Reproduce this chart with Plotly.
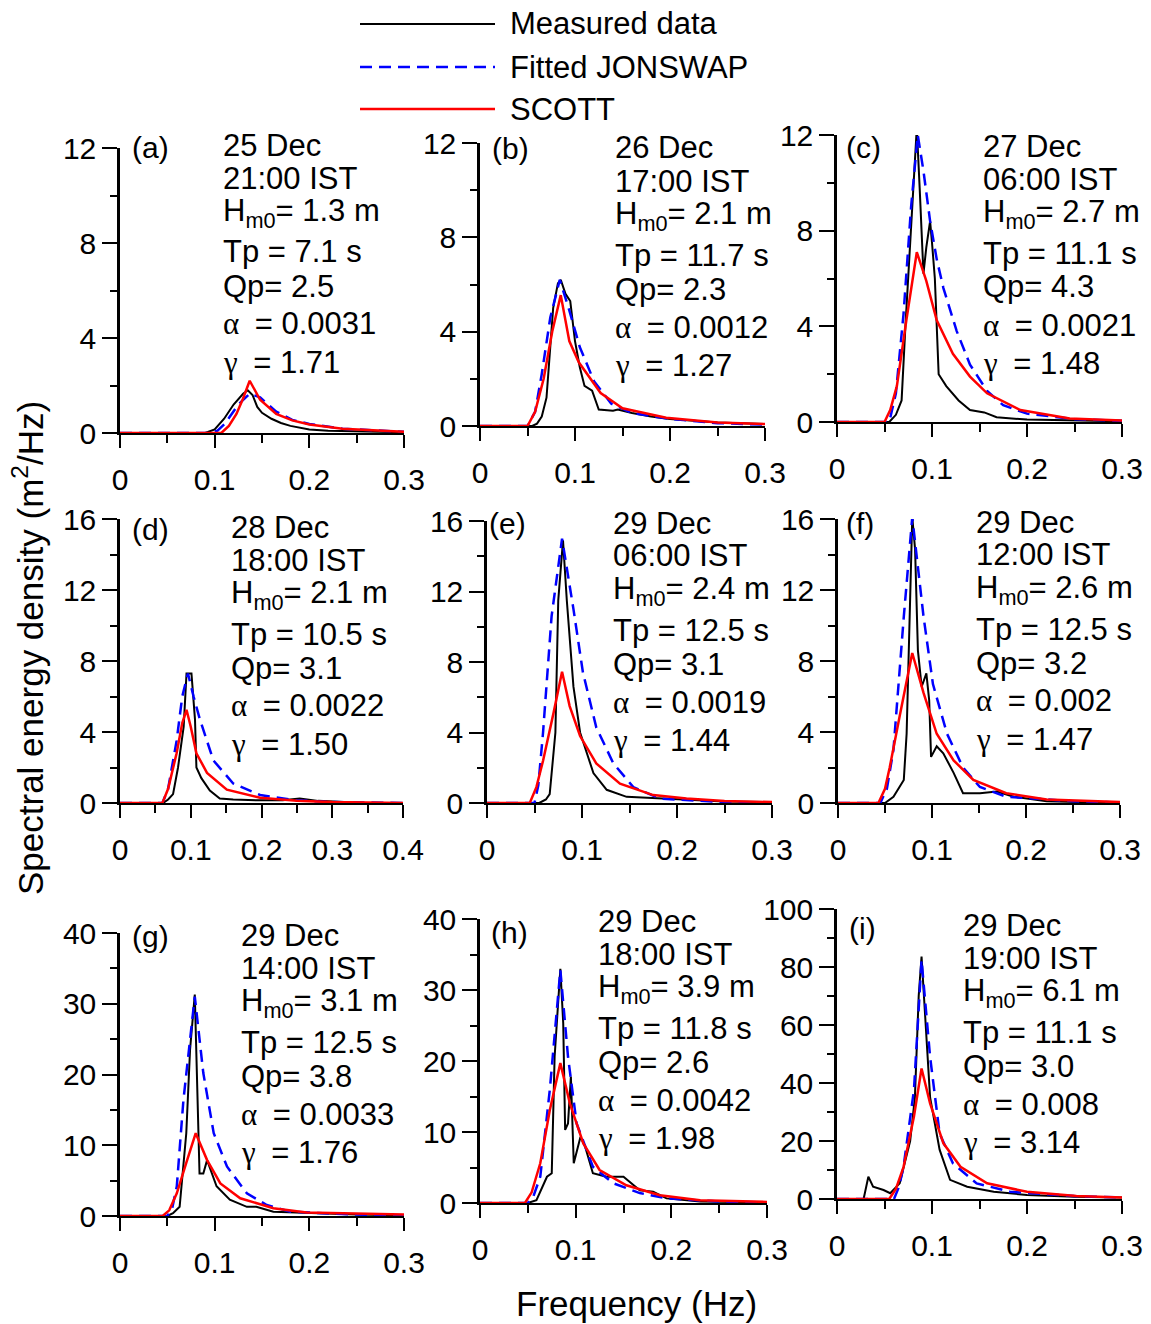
import plotly.graph_objects as go

# ---------------- data ----------------
a_meas_f = [0, 0.09, 0.1, 0.11, 0.12, 0.13, 0.135, 0.14, 0.145, 0.15, 0.16, 0.17, 0.18, 0.2, 0.22, 0.25, 0.28, 0.3]
a_meas_s = [0, 0, 0.15, 0.6, 1.2, 1.65, 1.8, 1.6, 1.1, 0.85, 0.6, 0.42, 0.3, 0.15, 0.1, 0.07, 0.05, 0.03]
a_jons_f = [0, 0.095, 0.103, 0.111, 0.125, 0.137, 0.148, 0.165, 0.182, 0.2, 0.235, 0.27, 0.3]
a_jons_s = [0, 0, 0.1, 0.4, 1.2, 1.65, 1.5, 0.9, 0.55, 0.38, 0.18, 0.1, 0.05]
a_scott_f = [0, 0.107, 0.115, 0.123, 0.13, 0.137, 0.148, 0.165, 0.182, 0.2, 0.235, 0.27, 0.3]
a_scott_s = [0, 0, 0.3, 0.8, 1.45, 2.2, 1.4, 0.8, 0.53, 0.36, 0.18, 0.1, 0.05]

b_meas_f = [0, 0.055, 0.06, 0.065, 0.07, 0.077, 0.082, 0.085, 0.09, 0.095, 0.1, 0.105, 0.11, 0.118, 0.125, 0.14, 0.145, 0.16, 0.18, 0.2, 0.25, 0.3]
b_meas_s = [0, 0, 0.1, 0.4, 1.2, 5.0, 6.05, 6.2, 5.6, 5.3, 3.6, 2.5, 1.7, 1.5, 0.7, 0.65, 0.7, 0.55, 0.4, 0.3, 0.15, 0.08]
b_jons_f = [0, 0.05, 0.058, 0.065, 0.074, 0.084, 0.094, 0.105, 0.12, 0.138, 0.16, 0.2, 0.25, 0.3]
b_jons_s = [0, 0, 0.6, 2.2, 4.6, 6.2, 4.9, 3.35, 1.9, 0.95, 0.55, 0.3, 0.12, 0.06]
b_scott_f = [0, 0.05, 0.058, 0.067, 0.076, 0.085, 0.094, 0.104, 0.127, 0.15, 0.196, 0.25, 0.3]
b_scott_s = [0, 0, 0.6, 2.0, 4.0, 5.55, 3.6, 2.7, 1.4, 0.75, 0.35, 0.15, 0.08]

c_meas_f = [0, 0.055, 0.062, 0.068, 0.072, 0.077, 0.08, 0.084, 0.087, 0.091, 0.094, 0.098, 0.1, 0.103, 0.107, 0.115, 0.128, 0.14, 0.155, 0.168, 0.2, 0.25, 0.3]
c_meas_s = [0, 0, 0.3, 0.9, 4.0, 7.7, 9.8, 12.3, 9.8, 6.2, 7.3, 8.4, 7.5, 6.0, 2.0, 1.5, 0.9, 0.5, 0.4, 0.2, 0.1, 0.05, 0.03]
c_jons_f = [0, 0.055, 0.062, 0.07, 0.078, 0.085, 0.091, 0.098, 0.105, 0.112, 0.126, 0.14, 0.158, 0.175, 0.2, 0.25, 0.3]
c_jons_s = [0, 0, 1.2, 4.5, 9.0, 12.0, 10.5, 8.4, 6.8, 5.6, 3.8, 2.4, 1.3, 0.7, 0.35, 0.12, 0.05]
c_scott_f = [0, 0.05, 0.056, 0.063, 0.073, 0.084, 0.094, 0.105, 0.122, 0.14, 0.158, 0.193, 0.245, 0.3]
c_scott_s = [0, 0, 0.5, 1.5, 4.25, 7.1, 5.9, 4.25, 2.85, 1.9, 1.2, 0.5, 0.15, 0.06]

d_meas_f = [0, 0.061, 0.068, 0.075, 0.082, 0.09, 0.094, 0.101, 0.106, 0.108, 0.115, 0.127, 0.141, 0.16, 0.198, 0.23, 0.254, 0.28, 0.316, 0.33]
d_meas_s = [0, 0, 0.2, 0.5, 2.0, 4.3, 7.3, 7.3, 4.7, 2.0, 1.4, 0.7, 0.25, 0.2, 0.15, 0.15, 0.25, 0.12, 0.05, 0.0]
d_jons_f = [0, 0.06, 0.068, 0.08, 0.088, 0.096, 0.104, 0.113, 0.132, 0.16, 0.198, 0.25, 0.3, 0.4]
d_jons_s = [0, 0, 0.8, 3.5, 6.0, 7.3, 6.0, 4.7, 2.4, 1.1, 0.45, 0.15, 0.05, 0.0]
d_scott_f = [0, 0.06, 0.068, 0.08, 0.088, 0.094, 0.1, 0.108, 0.123, 0.151, 0.198, 0.25, 0.3, 0.4]
d_scott_s = [0, 0, 0.8, 2.8, 4.5, 5.25, 4.3, 2.8, 1.7, 0.75, 0.3, 0.12, 0.05, 0.0]

e_meas_f = [0, 0.055, 0.062, 0.066, 0.072, 0.075, 0.08, 0.084, 0.091, 0.098, 0.112, 0.126, 0.147, 0.2, 0.25, 0.3]
e_meas_s = [0, 0, 0.2, 0.5, 4.0, 11.5, 14.9, 11.5, 6.6, 4.0, 1.7, 0.75, 0.35, 0.2, 0.08, 0.05]
e_jons_f = [0, 0.05, 0.054, 0.059, 0.068, 0.079, 0.091, 0.101, 0.115, 0.133, 0.154, 0.182, 0.25, 0.3]
e_jons_s = [0, 0, 1.0, 4.0, 10.6, 15.0, 11.0, 7.4, 4.3, 2.25, 0.9, 0.25, 0.05, 0.02]
e_scott_f = [0, 0.045, 0.052, 0.059, 0.07, 0.079, 0.087, 0.098, 0.115, 0.14, 0.175, 0.21, 0.25, 0.3]
e_scott_s = [0, 0, 0.9, 2.4, 5.1, 7.45, 5.5, 3.8, 2.25, 1.1, 0.45, 0.25, 0.12, 0.05]

f_meas_f = [0, 0.05, 0.059, 0.07, 0.073, 0.077, 0.079, 0.082, 0.085, 0.089, 0.094, 0.097, 0.099, 0.105, 0.112, 0.123, 0.133, 0.151, 0.169, 0.187, 0.222, 0.26, 0.3]
f_meas_s = [0, 0, 0.35, 1.3, 3.9, 12.4, 16.1, 14.3, 8.6, 6.55, 7.3, 5.8, 2.6, 3.2, 2.8, 1.7, 0.55, 0.55, 0.65, 0.35, 0.1, 0.05, 0.03]
f_jons_f = [0, 0.045, 0.052, 0.059, 0.07, 0.079, 0.091, 0.101, 0.116, 0.133, 0.151, 0.179, 0.25, 0.3]
f_jons_s = [0, 0, 0.8, 3.0, 10.5, 16.1, 10.5, 6.7, 3.9, 2.0, 0.9, 0.35, 0.1, 0.03]
f_scott_f = [0, 0.043, 0.05, 0.055, 0.066, 0.079, 0.091, 0.105, 0.123, 0.144, 0.179, 0.222, 0.3]
f_scott_s = [0, 0, 0.8, 2.0, 5.0, 8.45, 6.2, 3.9, 2.4, 1.3, 0.55, 0.2, 0.05]

g_meas_f = [0, 0.05, 0.056, 0.063, 0.07, 0.074, 0.079, 0.082, 0.084, 0.088, 0.092, 0.102, 0.116, 0.134, 0.144, 0.162, 0.197, 0.25, 0.3]
g_meas_s = [0, 0, 0.4, 1.3, 11.7, 23.5, 31.3, 16.4, 6.0, 6.0, 7.9, 4.2, 2.3, 1.3, 1.3, 0.6, 0.4, 0.2, 0.1]
g_jons_f = [0, 0.05, 0.055, 0.06, 0.067, 0.079, 0.088, 0.099, 0.113, 0.134, 0.155, 0.18, 0.25, 0.3]
g_jons_s = [0, 0, 1.0, 4.2, 16.4, 31.0, 20.2, 11.7, 7.0, 3.2, 1.55, 0.6, 0.2, 0.1]
g_scott_f = [0, 0.045, 0.052, 0.06, 0.07, 0.08, 0.092, 0.106, 0.127, 0.162, 0.197, 0.25, 0.3]
g_scott_s = [0, 0, 0.8, 3.2, 7.5, 11.7, 7.9, 4.6, 2.5, 1.1, 0.5, 0.3, 0.2]

h_meas_f = [0, 0.05, 0.059, 0.07, 0.075, 0.078, 0.084, 0.087, 0.089, 0.092, 0.095, 0.098, 0.105, 0.11, 0.118, 0.132, 0.15, 0.167, 0.181, 0.195, 0.23, 0.3]
h_meas_s = [0, 0, 0.4, 3.7, 4.2, 20.6, 33.0, 25.3, 10.3, 11.2, 17.8, 5.6, 9.3, 7.9, 4.2, 3.7, 3.7, 1.8, 1.6, 0.65, 0.2, 0.1]
h_jons_f = [0, 0.05, 0.056, 0.063, 0.073, 0.084, 0.092, 0.101, 0.118, 0.139, 0.167, 0.195, 0.25, 0.3]
h_jons_s = [0, 0, 1.0, 3.7, 16.0, 32.8, 20.6, 11.2, 5.1, 2.8, 1.4, 0.65, 0.2, 0.1]
h_scott_f = [0, 0.047, 0.054, 0.063, 0.073, 0.084, 0.094, 0.108, 0.125, 0.153, 0.188, 0.23, 0.3]
h_scott_s = [0, 0, 1.5, 5.6, 13.1, 19.7, 14.0, 8.4, 4.65, 2.5, 1.1, 0.4, 0.15]

i_meas_f = [0, 0.028, 0.033, 0.038, 0.049, 0.056, 0.066, 0.077, 0.082, 0.086, 0.089, 0.093, 0.098, 0.108, 0.119, 0.137, 0.165, 0.2, 0.25, 0.3]
i_meas_s = [0, 0, 7.7, 4.25, 3.1, 2.0, 5.4, 20, 35, 70, 83.6, 60.6, 35, 17, 6.6, 4.25, 2.5, 1.4, 0.8, 0.5]
i_jons_f = [0, 0.06, 0.065, 0.07, 0.081, 0.089, 0.098, 0.108, 0.122, 0.147, 0.182, 0.25, 0.3]
i_jons_s = [0, 0, 4, 11, 37.6, 82.4, 49, 22.6, 12.3, 5.4, 2.5, 1.0, 0.5]
i_scott_f = [0, 0.055, 0.062, 0.07, 0.081, 0.089, 0.098, 0.112, 0.13, 0.158, 0.2, 0.252, 0.3]
i_scott_s = [0, 0, 3.5, 11, 28.4, 45, 33, 19.2, 11.1, 5.4, 2.5, 1.0, 0.5]

panel_labels = ["(a)", "(b)", "(c)", "(d)", "(e)", "(f)", "(g)", "(h)", "(i)"]
dates = ["25 Dec", "26 Dec", "27 Dec", "28 Dec", "29 Dec", "29 Dec", "29 Dec", "29 Dec", "29 Dec"]
times = ["21:00 IST", "17:00 IST", "06:00 IST", "18:00 IST", "06:00 IST", "12:00 IST", "14:00 IST", "18:00 IST", "19:00 IST"]
hm0 = ["1.3", "2.1", "2.7", "2.1", "2.4", "2.6", "3.1", "3.9", "6.1"]
tp = ["7.1", "11.7", "11.1", "10.5", "12.5", "12.5", "12.5", "11.8", "11.1"]
qp = ["2.5", "2.3", "4.3", "3.1", "3.1", "3.2", "3.8", "2.6", "3.0"]
alpha = ["0.0031", "0.0012", "0.0021", "0.0022", "0.0019", "0.002", "0.0033", "0.0042", "0.008"]
gamma = ["1.71", "1.27", "1.48", "1.50", "1.44", "1.47", "1.76", "1.98", "3.14"]

x_max = [0.3, 0.3, 0.3, 0.4, 0.3, 0.3, 0.3, 0.3, 0.3]
y_max = [12, 12, 12, 16, 16, 16, 40, 40, 100]
y_major = [4, 4, 4, 4, 4, 4, 10, 10, 20]
y_minor = [2, 2, 2, 2, 2, 2, 5, 5, 10]

series_names = ["Measured data", "Fitted JONSWAP", "SCOTT"]

meas = [(a_meas_f, a_meas_s), (b_meas_f, b_meas_s), (c_meas_f, c_meas_s),
        (d_meas_f, d_meas_s), (e_meas_f, e_meas_s), (f_meas_f, f_meas_s),
        (g_meas_f, g_meas_s), (h_meas_f, h_meas_s), (i_meas_f, i_meas_s)]
jons = [(a_jons_f, a_jons_s), (b_jons_f, b_jons_s), (c_jons_f, c_jons_s),
        (d_jons_f, d_jons_s), (e_jons_f, e_jons_s), (f_jons_f, f_jons_s),
        (g_jons_f, g_jons_s), (h_jons_f, h_jons_s), (i_jons_f, i_jons_s)]
scott = [(a_scott_f, a_scott_s), (b_scott_f, b_scott_s), (c_scott_f, c_scott_s),
         (d_scott_f, d_scott_s), (e_scott_f, e_scott_s), (f_scott_f, f_scott_s),
         (g_scott_f, g_scott_s), (h_scott_f, h_scott_s), (i_scott_f, i_scott_s)]

# ---------------- layout geometry (pixels) ----------------
W, H = 1151, 1324
# (x0, x1, ytop, ybottom) of each plot area
boxes = [(120, 404, 148, 433), (480, 765, 143, 426), (837, 1122, 135, 422),
         (120, 403, 519, 803), (487, 772, 521, 803), (838, 1120, 519, 803),
         (120, 404, 933, 1216), (480, 767, 919, 1203), (837, 1122, 909, 1199)]
text_x = [222, 614, 982, 230, 612, 975, 240, 597, 962]
text_y0 = [145, 148, 146, 527, 523, 522, 935, 921, 925]
line_off = [0, 33, 68, 107, 141, 179, 217]
label_pos = [(130, 147), (490, 149), (844, 147), (130, 529), (487, 524),
             (844, 523), (130, 936), (489, 932), (847, 928)]

FONT = "Liberation Sans, Arial, sans-serif"
FS = 31
TFS = 30


def px(x):
    return x / W


def py(y):
    return 1 - y / H


fig = go.Figure()
styles = [dict(color="#000000", width=2),
          dict(color="#0000ff", width=2.5, dash="12px,7px"),
          dict(color="#ff0000", width=2.5)]

for i in range(9):
    xa = "x" if i == 0 else f"x{i+1}"
    ya = "y" if i == 0 else f"y{i+1}"
    for k, (fx, sy) in enumerate([meas[i], jons[i], scott[i]]):
        fig.add_trace(go.Scatter(x=fx, y=sy, mode="lines", line=styles[k],
                                 name=series_names[k], showlegend=False,
                                 xaxis=xa, yaxis=ya, hoverinfo="skip"))
    x0, x1, yt, yb = boxes[i]
    xkey = "xaxis" if i == 0 else f"xaxis{i+1}"
    ykey = "yaxis" if i == 0 else f"yaxis{i+1}"
    fig.layout[xkey] = dict(domain=[px(x0), px(x1)], range=[0, x_max[i]], anchor=ya,
                            automargin=False,
                            dtick=0.1, tick0=0, ticks="outside", ticklen=13, tickwidth=2,
                            tickcolor="black", showline=True, linecolor="black", linewidth=2,
                            showgrid=False, zeroline=False,
                            tickfont=dict(family=FONT, size=TFS, color="black"),
                            ticklabelstandoff=6,
                            minor=dict(dtick=0.05, ticks="outside", ticklen=8,
                                       tickwidth=2, tickcolor="black", showgrid=False))
    fig.layout[ykey] = dict(domain=[py(yb), py(yt)], range=[0, y_max[i]], anchor=xa,
                            automargin=False,
                            dtick=y_major[i], tick0=0, ticks="outside", ticklen=15, tickwidth=2,
                            tickcolor="black", showline=True, linecolor="black", linewidth=2.5,
                            showgrid=False, zeroline=False,
                            tickfont=dict(family=FONT, size=TFS, color="black"),
                            ticklabelstandoff=0,
                            minor=dict(dtick=y_minor[i], ticks="outside", ticklen=7,
                                       tickwidth=2, tickcolor="black", showgrid=False))


def greek(ch):
    return f"<span style=\"font-family:'Liberation Serif'\">{ch}</span>"


annotations = []
for i in range(9):
    lines = [dates[i], times[i], f"H<sub>m0</sub>= {hm0[i]} m", f"Tp = {tp[i]} s",
             f"Qp= {qp[i]}", f"{greek('α')}\u2002= {alpha[i]}", f"{greek('γ')}\u2002= {gamma[i]}"]
    for j, t in enumerate(lines):
        annotations.append(dict(x=px(text_x[i]), y=py(text_y0[i] + line_off[j]),
                                xref="paper", yref="paper", text=t, showarrow=False,
                                xanchor="left", yanchor="middle", borderpad=0,
                                font=dict(family=FONT, size=FS, color="black")))
    lx, ly = label_pos[i]
    annotations.append(dict(x=px(lx), y=py(ly), xref="paper", yref="paper",
                            text=panel_labels[i], showarrow=False,
                            xanchor="left", yanchor="middle",
                            font=dict(family=FONT, size=TFS, color="black")))

# axis titles
annotations.append(dict(x=px(28), y=py(648), xref="paper", yref="paper",
                        text="Spectral energy density (m<sup>2</sup>/Hz)", textangle=-90,
                        showarrow=False, xanchor="center", yanchor="middle",
                        font=dict(family=FONT, size=35, color="black")))
annotations.append(dict(x=px(636), y=py(1303), xref="paper", yref="paper",
                        text="Frequency (Hz)", showarrow=False,
                        xanchor="center", yanchor="middle",
                        font=dict(family=FONT, size=35, color="black")))

# manual legend
shapes = []
leg_y = [24, 67, 109]
for k in range(3):
    st = styles[k]
    shapes.append(dict(type="line", xref="paper", yref="paper",
                       x0=px(360), x1=px(495), y0=py(leg_y[k]), y1=py(leg_y[k]),
                       line=dict(color=st["color"], width=st["width"],
                                 dash=st.get("dash", "solid"))))
    annotations.append(dict(x=px(508), y=py(leg_y[k]), xref="paper", yref="paper",
                            text=series_names[k], showarrow=False,
                            xanchor="left", yanchor="middle",
                            font=dict(family=FONT, size=FS, color="black")))

fig.update_layout(template="none", width=W, height=H,
                  margin=dict(l=0, r=0, t=0, b=0, pad=0, autoexpand=False),
                  paper_bgcolor="white", plot_bgcolor="white",
                  showlegend=False, annotations=annotations, shapes=shapes,
                  font=dict(family=FONT, size=FS, color="black"))

fig.write_html("out.html", config={"displayModeBar": False},
               post_script="document.body.style.margin='0';document.body.style.padding='0';")
